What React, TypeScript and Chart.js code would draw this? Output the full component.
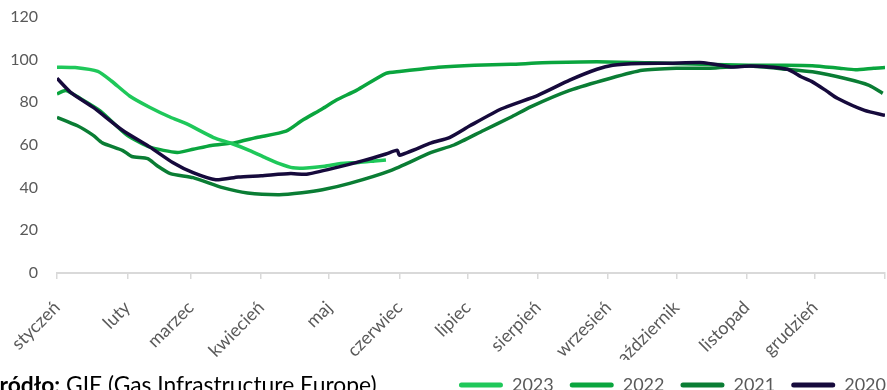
import React, { useEffect, useRef } from "react";
import { Chart, registerables } from "chart.js";

Chart.register(...registerables);

const monthStarts = [0, 31, 59, 90, 120, 151, 181, 212, 243, 273, 304, 334, 365];
const monthLabels = [
  "styczeń", "luty", "marzec", "kwiecień", "maj", "czerwiec",
  "lipiec", "sierpień", "wrzesień", "październik", "listopad", "grudzień", "",
];
const yTicks = [0, 20, 40, 60, 80, 100, 120];

const days2023 = [0, 8, 18, 24, 32, 41, 50, 57, 69, 77, 85, 92, 98, 104, 110, 118, 125, 133, 140, 145];
const values2023 = [96.5, 96.3, 94.5, 90, 83, 77.6, 73, 70, 63.5, 60.7, 57.4, 54, 51.3, 49.3, 49.2, 50, 51.3, 51.8, 52.5, 53];

const days2022 = [0, 4, 10, 19, 31, 41, 53, 60, 68, 78, 88, 101, 108, 117, 123, 132, 145, 151, 160, 168, 184, 200, 214, 238, 261, 284, 305, 320, 333, 345, 352, 360, 365];
const values2022 = [84, 85.5, 82, 76, 64.5, 59, 56.5, 58, 59.8, 61, 63.5, 66.5, 71.5, 77, 81, 85.6, 93.6, 94.5, 95.5, 96.5, 97.4, 97.8, 98.5, 99, 98.5, 97.8, 97.4, 97.4, 97.2, 96, 95.3, 96, 96.3];

const days2021 = [0, 9, 16, 20, 29, 33, 40, 44, 50, 60, 73, 84, 98, 108, 117, 129, 147, 165, 175, 188, 200, 209, 226, 244, 258, 273, 288, 305, 322, 333, 347, 358, 364];
const values2021 = [73, 69, 64.5, 61, 57.4, 54.6, 53.6, 50.4, 46.6, 44.7, 40, 37.5, 36.7, 37.6, 39, 42, 48, 56.5, 60, 66.8, 73, 78, 85.6, 91.3, 95, 96, 96, 97, 95.5, 94.3, 91.3, 88, 84.2];

const days2020 = [0, 6, 16, 29, 41, 51, 60, 70, 80, 90, 103, 110, 123, 135, 145, 150, 151, 165, 173, 182, 196, 212, 226, 238, 245, 257, 270, 285, 297, 306, 322, 328, 333, 339, 344, 356, 365];
const values2020 = [91.3, 84.7, 77.6, 66.8, 59, 51.8, 47, 43.7, 45, 45.6, 46.6, 46.3, 49.4, 52.7, 55.8, 57.5, 55.2, 61, 63.5, 69, 77, 83.3, 90.4, 95.5, 97.4, 98.2, 98.3, 98.6, 96.6, 97, 95.5, 92, 89.6, 85.5, 81.9, 76.2, 73.9];

const seriesNames = ["2023", "2022", "2021", "2020"];
const seriesColors = ["#1fc85a", "#0aa53e", "#0a7d34", "#160a3c"];

const toPoints = (d: number[], v: number[]) => d.map((x, i) => ({ x, y: v[i] }));

const legendShift = {
  id: "legendShift",
  afterLayout(chart: any) {
    if (chart.legend) {
      chart.legend.left += 17;
      chart.legend.right += 17;
    }
  },
};

export default function App() {
  const ref = useRef<HTMLCanvasElement | null>(null);

  useEffect(() => {
    if (!ref.current) return;
    const allDays = [days2023, days2022, days2021, days2020];
    const allVals = [values2023, values2022, values2021, values2020];
    const orders = [1, 2, 3, 0];
    const chart = new Chart(ref.current, {
      type: "line",
      data: {
        datasets: seriesNames.map((name, i) => ({
          label: name,
          data: toPoints(allDays[i], allVals[i]),
          borderColor: seriesColors[i],
          backgroundColor: seriesColors[i],
          borderWidth: 3.5,
          pointRadius: 0,
          tension: 0.2,
          fill: false,
          order: orders[i],
        })),
      },
      plugins: [legendShift],
      options: {
        animation: false,
        responsive: false,
        layout: { padding: { top: 17, right: 2, left: 0, bottom: 0 } },
        plugins: {
          tooltip: { enabled: false },
          legend: {
            position: "bottom",
            align: "end",
            labels: {
              boxWidth: 44,
              boxHeight: 5,
              padding: 16,
              color: "#595959",
              font: { family: "Lato", size: 18 },
              useBorderRadius: true,
              borderRadius: 2.5,
              sort: (a: any, b: any) => a.datasetIndex - b.datasetIndex,
              generateLabels: (c: any) =>
                Chart.defaults.plugins.legend.labels
                  .generateLabels(c)
                  .map((it: any) => ({ ...it, lineWidth: 0, fillStyle: seriesColors[it.datasetIndex] })),
            },
          },
        },
        scales: {
          x: {
            type: "linear",
            min: 0,
            max: 365,
            afterBuildTicks: (s: any) => {
              s.ticks = monthStarts.map((v) => ({ value: v }));
            },
            afterFit: (s: any) => {
              s.height = 87;
              s.paddingLeft = 0;
              s.paddingRight = 0;
            },
            ticks: {
              autoSkip: false,
              minRotation: 45,
              maxRotation: 45,
              padding: 18,
              color: "#595959",
              font: { family: "Lato", size: 18 },
              callback: (v: any) => {
                const i = monthStarts.indexOf(Number(v));
                return i >= 0 ? monthLabels[i] : "";
              },
            },
            grid: {
              display: true,
              drawOnChartArea: false,
              drawTicks: true,
              tickLength: 6,
              color: "#d9d9d9",
              lineWidth: 1.5,
            },
            border: { display: true, color: "#d9d9d9", width: 2 },
          },
          y: {
            min: 0,
            max: 120,
            afterBuildTicks: (s: any) => {
              s.ticks = yTicks.map((v) => ({ value: v }));
            },
            afterFit: (s: any) => {
              s.width = 57;
              s.paddingTop = 0;
              s.paddingBottom = 0;
            },
            ticks: {
              padding: 19,
              color: "#595959",
              font: { family: "Lato", size: 16 },
            },
            grid: { display: false, drawTicks: false },
            border: { display: false },
          },
        },
      },
    });
    return () => chart.destroy();
  }, []);

  return (
    <div style={{ position: "fixed", left: 0, top: 0, width: 887, height: 390, overflow: "hidden", background: "#fff" }}>
      <canvas ref={ref} width={887} height={404} style={{ display: "block", width: 887, height: 404 }} />
      <div
        style={{
          position: "absolute",
          left: -14,
          top: 373,
          fontFamily: "Lato, sans-serif",
          fontSize: 22.8,
          color: "#000",
          whiteSpace: "nowrap",
          lineHeight: "22.5px",
        }}
      >
        <b>Źródło:</b> GIE (Gas Infrastructure Europe)
      </div>
    </div>
  );
}
